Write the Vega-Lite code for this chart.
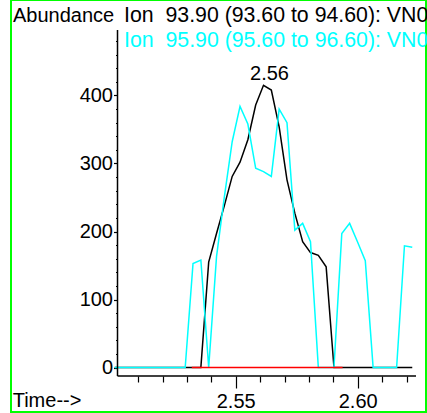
{
  "$schema": "https://vega.github.io/schema/vega-lite/v6.json",
  "width": 415,
  "height": 412,
  "autosize": "none",
  "padding": {"left": 11, "top": 0, "right": 1, "bottom": 1},
  "background": "white",
  "title": {
    "text": "Ion\u00a0 93.90 (93.60 to 94.60): VN0",
    "subtitle": "Ion\u00a0 95.90 (95.60 to 96.60): VN0",
    "anchor": "start",
    "frame": "group",
    "font": "Liberation Sans",
    "fontSize": 21.3,
    "fontWeight": "normal",
    "color": "black",
    "subtitleFont": "Liberation Sans",
    "subtitleFontSize": 21.3,
    "subtitleColor": "#00ffff",
    "subtitlePadding": 3,
    "dx": 113,
    "offset": -51
  },
  "datasets": {
    "ions": [
      {"time": 2.50042, "ion": "93.90", "abundance": 0},
      {"time": 2.50363, "ion": "93.90", "abundance": 0},
      {"time": 2.50684, "ion": "93.90", "abundance": 0},
      {"time": 2.51005, "ion": "93.90", "abundance": 0},
      {"time": 2.51326, "ion": "93.90", "abundance": 0},
      {"time": 2.51647, "ion": "93.90", "abundance": 0},
      {"time": 2.51968, "ion": "93.90", "abundance": 0},
      {"time": 2.52289, "ion": "93.90", "abundance": 0},
      {"time": 2.52609, "ion": "93.90", "abundance": 0},
      {"time": 2.52930, "ion": "93.90", "abundance": 0},
      {"time": 2.53251, "ion": "93.90", "abundance": 0},
      {"time": 2.53572, "ion": "93.90", "abundance": 0},
      {"time": 2.53893, "ion": "93.90", "abundance": 155},
      {"time": 2.54214, "ion": "93.90", "abundance": 197},
      {"time": 2.54535, "ion": "93.90", "abundance": 238},
      {"time": 2.54856, "ion": "93.90", "abundance": 281},
      {"time": 2.55177, "ion": "93.90", "abundance": 302},
      {"time": 2.55498, "ion": "93.90", "abundance": 335},
      {"time": 2.55819, "ion": "93.90", "abundance": 386},
      {"time": 2.56139, "ion": "93.90", "abundance": 415},
      {"time": 2.56460, "ion": "93.90", "abundance": 408},
      {"time": 2.56781, "ion": "93.90", "abundance": 354},
      {"time": 2.57102, "ion": "93.90", "abundance": 276},
      {"time": 2.57423, "ion": "93.90", "abundance": 227},
      {"time": 2.57744, "ion": "93.90", "abundance": 185},
      {"time": 2.58065, "ion": "93.90", "abundance": 169},
      {"time": 2.58386, "ion": "93.90", "abundance": 165},
      {"time": 2.58707, "ion": "93.90", "abundance": 148},
      {"time": 2.59027, "ion": "93.90", "abundance": 0},
      {"time": 2.59348, "ion": "93.90", "abundance": 0},
      {"time": 2.59669, "ion": "93.90", "abundance": 0},
      {"time": 2.59990, "ion": "93.90", "abundance": 0},
      {"time": 2.60311, "ion": "93.90", "abundance": 0},
      {"time": 2.60632, "ion": "93.90", "abundance": 0},
      {"time": 2.60953, "ion": "93.90", "abundance": 0},
      {"time": 2.61274, "ion": "93.90", "abundance": 0},
      {"time": 2.61595, "ion": "93.90", "abundance": 0},
      {"time": 2.61916, "ion": "93.90", "abundance": 0},
      {"time": 2.62236, "ion": "93.90", "abundance": 0},
      {"time": 2.50042, "ion": "95.90", "abundance": 0},
      {"time": 2.50363, "ion": "95.90", "abundance": 0},
      {"time": 2.50684, "ion": "95.90", "abundance": 0},
      {"time": 2.51005, "ion": "95.90", "abundance": 0},
      {"time": 2.51326, "ion": "95.90", "abundance": 0},
      {"time": 2.51647, "ion": "95.90", "abundance": 0},
      {"time": 2.51968, "ion": "95.90", "abundance": 0},
      {"time": 2.52289, "ion": "95.90", "abundance": 0},
      {"time": 2.52609, "ion": "95.90", "abundance": 0},
      {"time": 2.52930, "ion": "95.90", "abundance": 0},
      {"time": 2.53251, "ion": "95.90", "abundance": 153},
      {"time": 2.53572, "ion": "95.90", "abundance": 158},
      {"time": 2.53893, "ion": "95.90", "abundance": 0},
      {"time": 2.54214, "ion": "95.90", "abundance": 163},
      {"time": 2.54535, "ion": "95.90", "abundance": 251},
      {"time": 2.54856, "ion": "95.90", "abundance": 332},
      {"time": 2.55177, "ion": "95.90", "abundance": 384},
      {"time": 2.55498, "ion": "95.90", "abundance": 358},
      {"time": 2.55819, "ion": "95.90", "abundance": 293},
      {"time": 2.56139, "ion": "95.90", "abundance": 288},
      {"time": 2.56460, "ion": "95.90", "abundance": 281},
      {"time": 2.56781, "ion": "95.90", "abundance": 380},
      {"time": 2.57102, "ion": "95.90", "abundance": 360},
      {"time": 2.57423, "ion": "95.90", "abundance": 202},
      {"time": 2.57744, "ion": "95.90", "abundance": 212},
      {"time": 2.58065, "ion": "95.90", "abundance": 185},
      {"time": 2.58386, "ion": "95.90", "abundance": 0},
      {"time": 2.58707, "ion": "95.90", "abundance": 0},
      {"time": 2.59027, "ion": "95.90", "abundance": 0},
      {"time": 2.59348, "ion": "95.90", "abundance": 197},
      {"time": 2.59669, "ion": "95.90", "abundance": 212},
      {"time": 2.59990, "ion": "95.90", "abundance": 185},
      {"time": 2.60311, "ion": "95.90", "abundance": 157},
      {"time": 2.60632, "ion": "95.90", "abundance": 0},
      {"time": 2.60953, "ion": "95.90", "abundance": 0},
      {"time": 2.61274, "ion": "95.90", "abundance": 0},
      {"time": 2.61595, "ion": "95.90", "abundance": 0},
      {"time": 2.61916, "ion": "95.90", "abundance": 179},
      {"time": 2.62236, "ion": "95.90", "abundance": 177}
    ],
    "baseline": [
      {"time": 2.532, "abundance": 0},
      {"time": 2.5938, "abundance": 0}
    ],
    "peak": [
      {"time": 2.56139, "abundance": 415, "label": "2.56"}
    ]
  },
  "config": {
    "font": "Liberation Sans",
    "view": {"stroke": "#00ff00", "strokeWidth": 2},
    "axis": {
      "domain": false,
      "grid": false,
      "tickColor": "black",
      "tickWidth": 1.2,
      "labelColor": "black",
      "labelFont": "Liberation Sans",
      "labelFontSize": 20,
      "titleColor": "black",
      "titleFont": "Liberation Sans",
      "titleFontSize": 20,
      "titleFontWeight": "normal",
      "labelFlush": false,
      "labelOverlap": false
    }
  },
  "resolve": {"axis": {"x": "independent", "y": "independent"}},
  "layer": [
    {
      "data": {"name": "ions"},
      "mark": {"type": "line", "strokeWidth": 1.5},
      "encoding": {
        "x": {
          "field": "time",
          "type": "quantitative",
          "scale": {"domain": [2.45791, 2.62799], "nice": false, "zero": false},
          "axis": {
            "orient": "bottom",
            "offset": -36,
            "values": [2.55, 2.6],
            "format": ".2f",
            "tickSize": 12,
            "labelPadding": 3,
            "title": "Time-->",
            "titleAlign": "left",
            "titleBaseline": "alphabetic",
            "titleX": 1.2,
            "titleY": 30
          }
        },
        "y": {
          "field": "abundance",
          "type": "quantitative",
          "scale": {"domain": [-65.44, 540.44], "nice": false, "zero": false},
          "axis": {
            "orient": "left",
            "offset": -106.5,
            "values": [0, 100, 200, 300, 400],
            "tickSize": 4,
            "labelPadding": 1,
            "title": "Abundance",
            "titleAngle": 0,
            "titleAlign": "left",
            "titleBaseline": "alphabetic",
            "titleX": -105,
            "titleY": 21
          }
        },
        "color": {
          "field": "ion",
          "type": "nominal",
          "scale": {"domain": ["93.90", "95.90"], "range": ["black", "#00ffff"]},
          "legend": null
        }
      }
    },
    {
      "data": {"name": "baseline"},
      "mark": {"type": "line", "color": "#ff0000", "strokeWidth": 1.5},
      "encoding": {
        "x": {
          "field": "time",
          "type": "quantitative",
          "scale": {"domain": [2.45791, 2.62799], "nice": false, "zero": false},
          "axis": {
            "orient": "bottom",
            "offset": -36,
            "values": [2.51, 2.52, 2.53, 2.54, 2.56, 2.57, 2.58, 2.59, 2.61, 2.62],
            "tickSize": 6,
            "labels": false,
            "title": null
          }
        },
        "y": {
          "field": "abundance",
          "type": "quantitative",
          "scale": {"domain": [-65.44, 540.44], "nice": false, "zero": false},
          "axis": {
            "orient": "left",
            "offset": -106.5,
            "values": [20, 40, 60, 80, 120, 140, 160, 180, 220, 240, 260, 280, 320, 340, 360, 380, 420, 440, 460, 480],
            "tickSize": 2,
            "labels": false,
            "title": null
          }
        }
      }
    },
    {
      "data": {"values": [{}]},
      "mark": {"type": "rule", "color": "black", "strokeWidth": 1.5},
      "encoding": {
        "x": {"datum": 2.50156, "scale": {"domain": [2.45791, 2.62799], "nice": false, "zero": false}, "axis": null},
        "y": {"datum": -12.5, "scale": {"domain": [-65.44, 540.44], "nice": false, "zero": false}, "axis": null},
        "y2": {"datum": 496.3}
      }
    },
    {
      "data": {"values": [{}]},
      "mark": {"type": "rule", "color": "black", "strokeWidth": 1.5},
      "encoding": {
        "x": {"datum": 2.50156, "scale": {"domain": [2.45791, 2.62799], "nice": false, "zero": false}, "axis": null},
        "x2": {"datum": 2.62389},
        "y": {"datum": -12.5, "scale": {"domain": [-65.44, 540.44], "nice": false, "zero": false}, "axis": null}
      }
    },
    {
      "data": {"name": "peak"},
      "mark": {"type": "text", "font": "Liberation Sans", "fontSize": 20, "color": "black", "align": "center", "baseline": "alphabetic", "dx": 6, "dy": -5},
      "encoding": {
        "x": {"field": "time", "type": "quantitative", "scale": {"domain": [2.45791, 2.62799], "nice": false, "zero": false}, "axis": null},
        "y": {"field": "abundance", "type": "quantitative", "scale": {"domain": [-65.44, 540.44], "nice": false, "zero": false}, "axis": null},
        "text": {"field": "label"}
      }
    }
  ]
}
